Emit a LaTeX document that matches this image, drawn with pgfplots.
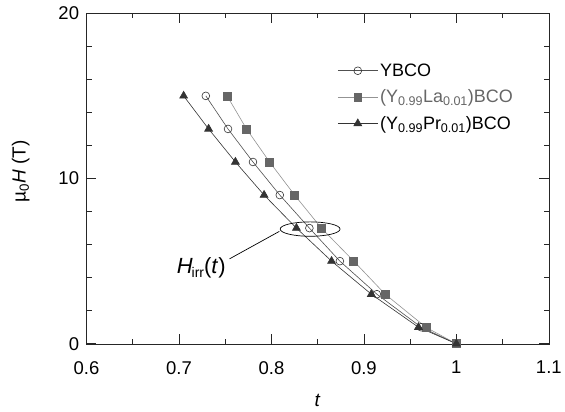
\documentclass[border=0pt]{standalone}
\usepackage{pgfplots}
\pgfplotsset{compat=1.18}
\usepackage{fontspec}
\setmainfont{Liberation Sans}
\definecolor{tri}{HTML}{333333}
\definecolor{sq}{HTML}{666666}
\definecolor{ln}{HTML}{505050}
\begin{document}
\begin{tikzpicture}
\begin{axis}[
  scale only axis, width=463pt, height=331pt,
  xmin=0.6, xmax=1.1, ymin=0, ymax=20,
  xtick={0.6,0.7,0.8,0.9,1,1.1}, xticklabels={0.6,0.7,0.8,0.9,1,1.1},
  ytick={0,10,20}, minor x tick num=1, minor y tick num=4,
  /pgf/number format/assume math mode=true,
  tick align=inside, major tick length=9.5pt, minor tick length=5pt,
  axis line style={black!85}, every tick/.style={black!85, line width=0.6pt},
  every tick label/.append style={font=\fontsize{18.5}{20}\selectfont},
  xticklabel style={yshift=-14pt}, yticklabel style={xshift=-4pt},
  xlabel={\textit{t}}, ylabel={\textmu\textsubscript{0}\textit{H} (T)},
  label style={font=\fontsize{19}{22}\selectfont},
  xlabel style={at={(axis description cs:0.5,0)}, anchor=center, yshift=-57pt},
  ylabel style={at={(axis description cs:0,0.5)}, anchor=center, yshift=66pt, xshift=7pt},
  legend style={draw=none, fill=none, at={(0.536,0.86)}, anchor=north west,
    font=\fontsize{18}{20}\selectfont, row sep=8pt},
  legend cell align=left,
  legend image code/.code={\draw[mark repeat=2,mark phase=2] plot coordinates {(0pt,0pt) (20pt,0pt) (40pt,0pt)};},
  every axis plot/.append style={line width=0.6pt}]
\addplot[ln, mark=o, mark size=3.9pt, mark options={fill=white, draw=black!80}] coordinates {
  (0.729,15) (0.753,13) (0.780,11) (0.809,9) (0.841,7) (0.874,5) (0.914,3) (0.962,1) (1,0)};
\addplot[gray!85, mark=square*, mark size=4pt, mark options={fill=sq, draw=sq}] coordinates {
  (0.752,15) (0.773,13) (0.798,11) (0.825,9) (0.854,7) (0.889,5) (0.923,3) (0.967,1) (1,0)};
\addplot[tri, mark=triangle*, mark size=4.6pt, mark options={fill=tri, draw=tri}] coordinates {
  (0.705,15) (0.732,13) (0.761,11) (0.792,9) (0.827,7) (0.865,5) (0.908,3) (0.959,1) (1,0)};
\legend{YBCO, \textcolor{sq}{(Y\textsubscript{0.99}La\textsubscript{0.01})BCO}, (Y\textsubscript{0.99}Pr\textsubscript{0.01})BCO}
\draw[black, line width=0.7pt] (axis cs:0.8418,6.94) ellipse [x radius=30pt, y radius=7.2pt];
\draw[black, line width=0.7pt] (axis cs:0.8085,6.80) -- (axis cs:0.7547,5.14);
\node[font=\fontsize{22}{26}\selectfont, inner sep=0pt] at (axis cs:0.724,4.59) {\textit{H}\kern-1pt\raisebox{-4pt}{\fontsize{14}{16}\selectfont irr}(\textit{t})};
\end{axis}
\path ([xshift=-86.7pt,yshift=-67.7pt]current axis.south west) rectangle ([xshift=15pt,yshift=13.3pt]current axis.north east);
\end{tikzpicture}
\end{document}
